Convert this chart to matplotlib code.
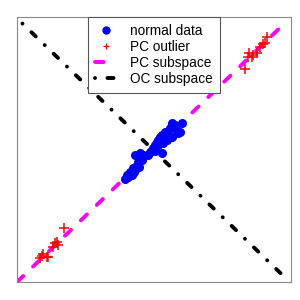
import matplotlib
matplotlib.use("Agg")
import matplotlib.pyplot as plt
import numpy as np

# normal data (clustered around the principal direction)
normal_x = [-0.192, -0.170, -0.140, -0.117, -0.102, -0.095, -0.117, -0.080, -0.058, -0.065,
            0.010, 0.017, 0.032, 0.055, 0.070, 0.085, 0.047, 0.055, 0.092, 0.129,
            0.159, 0.182, 0.197, 0.219, 0.204, 0.234, 0.159, 0.085, -0.155, -0.132,
            -0.005, -0.020, 0.107, 0.144, -0.180, -0.125, -0.090, 0.030, 0.120, 0.175]
normal_y = [-0.203, -0.188, -0.172, -0.134, -0.095, -0.072, -0.018, -0.002, -0.018, -0.056,
            0.021, 0.036, 0.060, 0.098, 0.121, 0.137, 0.083, 0.060, 0.075, 0.137,
            0.230, 0.214, 0.176, 0.160, 0.152, 0.230, 0.121, -0.002, -0.149, -0.118,
            0.005, -0.018, 0.160, 0.191, -0.175, -0.150, -0.110, 0.010, 0.100, 0.195]

# PC outliers
out_x = [0.705, 0.728, 0.735, 0.758, 0.765, 0.795, 0.817, 0.855, 0.870, 0.840,
         -0.648, -0.716, -0.693, -0.731, -0.701, -0.813, -0.776, -0.828, -0.806, -0.768]
out_y = [0.647, 0.740, 0.771, 0.740, 0.756, 0.771, 0.818, 0.848, 0.895, 0.841,
         -0.582, -0.698, -0.714, -0.729, -0.691, -0.799, -0.807, -0.814, -0.783, -0.807]

# subspace lines
pc_x = [-1.0, 1.0]
pc_y = [-1.0, 1.0]
oc_x = [-0.96, 1.0]
oc_y = [1.0, -0.96]

fig = plt.figure(figsize=(3, 3), dpi=100)
ax = fig.add_axes([0.057, 0.06, 0.913, 0.883])

ax.plot(normal_x, normal_y, 'o', color='blue', markersize=5.5, label='normal data', zorder=3)
ax.plot(out_x, out_y, '+', color='red', markersize=7.5, markeredgewidth=1.1, label='PC outlier', zorder=3)
ax.plot(pc_x, pc_y, color='magenta', linewidth=2.8, dashes=(2.2, 3.5),
        dash_capstyle='round', label='PC subspace', zorder=2)
ax.plot(oc_x, oc_y, color='black', linewidth=2.8, dashes=(0.01, 3.2, 1.55, 3.2),
        dash_capstyle='round', label='OC subspace', zorder=2)

ax.set_xlim(-1, 1.05)
ax.set_ylim(-1, 1.05)
ax.set_xticks([])
ax.set_yticks([])
for s in ax.spines.values():
    s.set_color('#888888')

leg = ax.legend(loc='upper center', borderaxespad=0, fancybox=False, framealpha=1,
                edgecolor='#555555', handlelength=1.6, handletextpad=1.0,
                borderpad=0.5, labelspacing=0.15,
                prop={'family': 'Liberation Sans', 'size': 9.8})
leg.get_frame().set_linewidth(0.8)
leg.legend_handles[1].set_markersize(5)
leg.legend_handles[1].set_markeredgewidth(0.9)
leg.legend_handles[0].set_markersize(5)

fig.savefig('out.png', dpi=100)
